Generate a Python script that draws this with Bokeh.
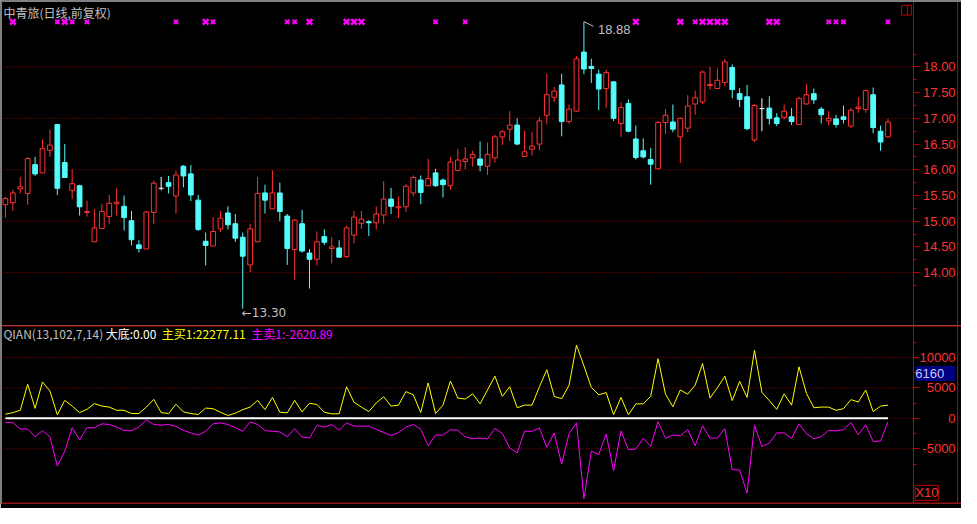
import numpy as np
from bokeh.plotting import figure
from bokeh.models import (Range1d, LinearAxis, FixedTicker, NumeralTickFormatter,
                          Label, Span, ColumnDataSource)
from bokeh.layouts import column
from bokeh.embed import file_html
from bokeh.resources import INLINE

# ---------------- data ----------------
opens = [15.32, 15.36, 15.63, 15.54, 16.10, 15.94, 16.38, 16.88, 16.14, 15.60,
         15.69, 15.17, 14.60, 14.86, 15.09, 15.34, 15.29, 15.01, 14.54, 14.46,
         15.17, 15.64, 15.75, 15.49, 16.07, 15.92, 15.41, 14.61, 14.52, 14.85,
         15.16, 14.95, 14.69, 14.15, 14.60, 15.55, 15.24, 15.55, 15.10, 14.45,
         14.95, 14.38, 14.26, 14.70, 14.47, 14.48, 14.31, 14.73, 14.96, 14.99,
         14.97, 15.12, 15.43, 15.26, 15.28, 15.55, 15.80, 15.69, 15.94, 15.80,
         15.69, 15.99, 16.16, 16.23, 16.21, 16.07, 16.23, 16.64, 16.79, 16.87,
         16.26, 16.40, 16.50, 17.06, 17.41, 17.65, 16.94, 17.14, 18.29, 18.01,
         17.86, 17.58, 17.71, 16.90, 17.29, 16.60, 16.37, 16.20, 16.02, 16.92,
         16.93, 16.64, 16.81, 17.28, 17.32, 17.64, 17.58, 17.70, 17.99, 17.48,
         17.42, 16.58, 17.19, 17.20, 17.01, 17.02, 17.03, 16.88, 17.28, 17.48,
         17.18, 16.95, 16.99, 17.03, 16.85, 17.19, 17.17, 17.46, 16.75, 16.64]
closes = [15.44, 15.55, 15.67, 16.22, 15.92, 16.41, 16.48, 15.64, 15.85, 15.73,
          15.28, 15.19, 14.87, 15.19, 15.35, 15.37, 15.07, 14.64, 14.47, 15.18,
          15.74, 15.64, 15.68, 15.90, 15.88, 15.51, 14.84, 14.53, 14.80, 15.06,
          14.93, 14.67, 14.32, 14.85, 15.54, 15.41, 15.55, 15.19, 14.47, 15.02,
          14.42, 14.26, 14.60, 14.59, 14.50, 14.30, 14.87, 15.08, 15.04, 14.97,
          15.14, 15.43, 15.29, 15.28, 15.68, 15.85, 15.56, 15.83, 15.69, 15.71,
          16.15, 16.19, 16.21, 16.30, 16.09, 16.30, 16.64, 16.74, 16.87, 16.50,
          16.35, 16.46, 16.95, 17.46, 17.53, 16.94, 17.18, 18.16, 17.96, 17.97,
          17.57, 17.89, 17.00, 17.21, 16.75, 16.24, 16.25, 16.11, 16.92, 17.06,
          16.79, 17.00, 17.24, 17.40, 17.90, 17.66, 17.74, 18.10, 17.56, 17.37,
          16.80, 17.25, 17.19, 17.00, 16.90, 17.14, 16.94, 17.39, 17.46, 17.36,
          17.07, 17.00, 16.88, 16.98, 17.16, 17.22, 17.54, 16.82, 16.54, 16.93]
highs = [15.47, 15.61, 15.86, 16.24, 16.25, 16.59, 16.78, 16.89, 16.50, 16.01,
         15.71, 15.40, 15.23, 15.34, 15.51, 15.65, 15.50, 15.20, 14.63, 15.20,
         15.79, 15.86, 15.88, 15.98, 16.09, 16.09, 15.51, 14.78, 15.08, 15.20,
         15.29, 15.14, 14.78, 14.95, 15.86, 15.71, 15.99, 15.75, 15.14, 15.04,
         15.22, 14.46, 14.80, 14.84, 14.69, 14.63, 14.91, 15.20, 15.20, 15.02,
         15.29, 15.78, 15.65, 15.48, 15.72, 15.89, 15.89, 16.21, 16.02, 15.83,
         16.25, 16.40, 16.44, 16.37, 16.55, 16.53, 16.68, 16.77, 17.14, 17.00,
         16.76, 16.74, 17.02, 17.87, 17.61, 17.87, 17.27, 18.21, 18.88, 18.16,
         17.95, 17.95, 17.72, 17.31, 17.37, 16.86, 16.61, 16.42, 16.95, 17.18,
         17.27, 17.02, 17.45, 17.54, 17.93, 18.00, 17.97, 18.16, 18.05, 17.59,
         17.65, 17.28, 17.39, 17.43, 17.10, 17.27, 17.20, 17.42, 17.67, 17.58,
         17.22, 17.14, 17.07, 17.25, 17.20, 17.41, 17.56, 17.60, 16.86, 16.99]
lows = [15.07, 15.20, 15.54, 15.32, 15.88, 15.93, 16.25, 15.51, 15.84, 15.43,
        15.11, 15.09, 14.59, 14.85, 14.95, 15.11, 14.82, 14.53, 14.39, 14.45,
        14.94, 15.60, 15.54, 15.15, 15.66, 15.39, 14.81, 14.14, 14.51, 14.79,
        14.84, 14.60, 13.30, 14.01, 14.59, 15.15, 15.24, 15.00, 14.15, 13.86,
        14.39, 13.69, 14.14, 14.54, 14.18, 14.29, 14.28, 14.57, 14.85, 14.71,
        14.84, 14.95, 15.14, 15.06, 15.18, 15.48, 15.33, 15.68, 15.67, 15.46,
        15.61, 15.97, 16.01, 16.06, 15.97, 15.90, 16.14, 16.48, 16.56, 16.48,
        16.25, 16.28, 16.38, 16.88, 17.32, 16.65, 16.89, 17.13, 17.86, 17.69,
        17.16, 17.20, 16.95, 16.64, 16.73, 16.20, 16.22, 15.71, 16.01, 16.70,
        16.73, 16.13, 16.73, 17.07, 17.28, 17.56, 17.57, 17.63, 17.39, 17.22,
        16.77, 16.54, 16.75, 16.88, 16.85, 16.98, 16.87, 16.87, 17.27, 17.28,
        16.90, 16.86, 16.82, 16.90, 16.81, 17.11, 17.11, 16.71, 16.37, 16.63]

buy = [688, 952, 1323, 5607, 1640, 5978, 4497, 582, 2962, 2010,
       952, 1481, 2433, 2010, 1852, 1323, 1323, 794, 794, 1852,
       3121, 952, 794, 2328, 1058, 794, 635, 1693, 1587, 1005,
       476, 846, 1428, 1852, 2962, 1428, 3439, 1005, 899, 2962,
       1058, 2486, 2275, 1005, 741, 741, 5184, 2645, 1852, 1111,
       2539, 3544, 2010, 2169, 4391, 3862, 952, 5819, 794, 2169,
       6136, 3333, 3174, 4020, 2381, 4655, 6930, 3597, 5184, 1746,
       2169, 2169, 5184, 7988, 3597, 3227, 5449, 12008, 8623, 5078,
       3862, 4232, 582, 3439, 582, 2381, 2381, 3597, 9787, 3968,
       1904, 4655, 3968, 5449, 8993, 3333, 5026, 6930, 2910, 6084,
       3439, 11162, 4285, 2910, 1481, 4020, 2169, 8464, 4126, 1746,
       1852, 1852, 1323, 1587, 3068, 2698, 4655, 1111, 2010, 2169]
sell = [-688, -688, -1746, -1746, -3015, -2010, -3015, -7829, -5396, -1534,
        -3544, -1534, -1534, -899, -1005, -1428, -2010, -2010, -1428, -265,
        -1005, -1111, -1005, -1323, -1957, -2381, -2751, -2116, -899, -741,
        -1005, -1534, -2116, -582, -1005, -2010, -2116, -2222, -3015, -1693,
        -3068, -3227, -1164, -1428, -1005, -1957, -741, -1270, -1270, -1270,
        -1799, -2328, -2804, -2328, -1428, -1005, -1799, -4497, -2751, -2751,
        -1852, -1957, -3015, -3333, -3227, -3386, -1640, -2486, -4867, -5660,
        -2116, -2116, -1587, -4761, -2381, -7512, -2486, -741, -13172, -5396,
        -5925, -2592, -8570, -2063, -5131, -5026, -3280, -4602, -529, -3280,
        -2751, -2857, -1852, -4497, -1217, -3227, -3227, -1693, -8411, -8464,
        -12273, -1164, -4602, -4073, -2381, -2381, -3280, -899, -2486, -3333,
        -3015, -1957, -2063, -1852, -688, -2698, -1058, -3809, -3703, -582]

signal_big = [1, 8, 27, 41, 46, 47, 48, 85, 91, 94, 95, 96, 97, 103, 104]
signal_small = [7, 9, 11, 23, 28, 38, 39, 58, 62, 93, 111, 112, 113, 119]

price_ticks = [14.0, 14.5, 15.0, 15.5, 16.0, 16.5, 17.0, 17.5, 18.0]
price_minor = [13.75, 14.25, 14.75, 15.25, 15.75, 16.25, 16.75, 17.25, 17.75, 18.25]
price_grid = [14.0, 15.0, 16.0, 17.0, 18.0]
ind_ticks = [-5000, 0, 5000, 10000]
ind_minor = [-7500, -2500, 2500, 7500, 12500]

title_text = "中青旅(日线,前复权)"
ind_name = "QIAN(13,102,7,14)"
ind_texts = ["大底:0.00", "主买1:22277.11", "主卖1:-2620.89"]
cursor_text = "6160"
scale_text = "X10"

# ---------------- styling / layout ----------------
W, H1, H2 = 961, 325, 183
RED = "#ff3232"
DRED = "#c00000"
GRIDC = "#a00000"
CYAN = "#54fcfc"
MAG = "#ff00ff"
YEL = "#ffff00"
GREY = "#c0c0c0"

# reference pixel -> data helpers (annotation placement only)
def rx(px):
    return (px - 5) / 7.54

def rp(py):
    return 18 - (py - 68.5) / 53.0

def rv(py):
    return (431 - py) * 158.73

xr = Range1d(rx(0), rx(977))
AX_X = rx(928)      # axis line
LBL_X = rx(971)     # right edge of tick labels
EDGE_X = rx(973)    # outer frame line


def add_axes(p, ticks, minor, fmt):
    tick_ax = LinearAxis(fixed_location=AX_X,
                         ticker=FixedTicker(ticks=ticks, minor_ticks=minor),
                         axis_line_color=DRED, major_tick_line_color=DRED,
                         minor_tick_line_color=DRED, major_tick_out=6,
                         major_tick_in=0, minor_tick_out=3, minor_tick_in=0,
                         major_label_text_alpha=0,
                         major_label_text_font_size="1px")
    p.add_layout(tick_ax, "right")
    lab_ax = LinearAxis(fixed_location=LBL_X,
                        ticker=FixedTicker(ticks=ticks, minor_ticks=[]),
                        axis_line_color=None, major_tick_line_color=None,
                        minor_tick_line_color=None, major_tick_out=0,
                        major_tick_in=0, major_label_standoff=0,
                        major_label_text_color=RED,
                        major_label_text_font="Liberation Sans",
                        major_label_text_font_size="13px",
                        formatter=NumeralTickFormatter(format=fmt))
    p.add_layout(lab_ax, "left")
    p.add_layout(Span(location=EDGE_X, dimension="height", line_color=DRED,
                      line_width=1))
    p.add_layout(Span(location=xr.start, dimension="height", line_color="#808080",
                      line_width=3, level="overlay"))


def make_fig(h, yr, bottom):
    p = figure(width=W, height=h, x_range=xr, y_range=yr,
               output_backend="svg", toolbar_location=None,
               x_axis_location=None, y_axis_location=None,
               min_border_left=0, min_border_right=0, min_border_top=0,
               min_border_bottom=bottom, background_fill_color="black",
               border_fill_color="black", outline_line_color=None)
    p.xgrid.visible = False
    p.ygrid.visible = False
    return p

# ---------------- main candle panel ----------------
p1 = make_fig(H1, Range1d(rp(335), rp(0)), 0)
p1.segment(x0=[xr.start] * len(price_grid), y0=price_grid,
           x1=[AX_X] * len(price_grid), y1=price_grid,
           color=GRIDC, line_dash="1 2", line_width=1)
add_axes(p1, price_ticks, price_minor, "0.00")

o = np.array(opens)
c = np.array(closes)
idx = np.arange(len(o))
up = c > o
down = c < o
flat = c == o
col = np.where(up, RED, np.where(down, CYAN, "#ffffff"))
fill = np.where(down, CYAN, "#000000")
src = ColumnDataSource(dict(x=idx, h=highs, l=lows, col=col))
p1.segment("x", "l", "x", "h", color="col", line_width=1, source=src)
nf = ~flat
src_b = ColumnDataSource(dict(x=idx[nf], top=np.maximum(o, c)[nf],
                              bot=np.minimum(o, c)[nf], col=col[nf], fill=fill[nf]))
p1.vbar(x="x", top="top", bottom="bot", width=0.64, fill_color="fill",
        line_color="col", line_width=1, source=src_b)
fx = idx[flat]
p1.segment(fx - 0.33, o[flat], fx + 0.33, o[flat], color="#ffffff", line_width=1)

# signal markers
my = rp(22)
p1.scatter(signal_big, [my] * len(signal_big), marker="x", size=8,
           line_width=2.5, color=MAG)
p1.scatter(signal_small, [my] * len(signal_small), marker="x", size=6,
           line_width=2, color=MAG)

# extreme annotations
imin = int(np.argmin(lows))
imax = int(np.argmax(highs))
p1.add_layout(Label(x=imin, y=lows[imin], text="\u2190%.2f" % lows[imin],
                    x_offset=-1, y_offset=-4, text_baseline="middle",
                    text_color=GREY, text_font="DejaVu Sans",
                    text_font_size="12px"))
p1.segment([imax], [highs[imax]], [imax + 1.3], [highs[imax] - 0.09],
           color=GREY, line_width=1)
p1.add_layout(Label(x=imax, y=highs[imax], text="%.2f" % highs[imax],
                    x_offset=14, y_offset=-8, text_baseline="middle",
                    text_color=GREY, text_font="Liberation Sans",
                    text_font_size="13px"))

# title
p1.add_layout(Label(x=rx(3), y=rp(12), text=title_text, text_baseline="middle",
                    text_color=GREY, text_font="Noto Sans CJK SC",
                    text_font_size="12px"))
# small window icon
p1.quad(left=[rx(916)], right=[rx(926)], top=[rp(5)], bottom=[rp(15)],
        fill_color=None, line_color=DRED, line_width=1)
p1.segment([rx(922)], [rp(5)], [rx(922)], [rp(15)], color=DRED, line_width=1)
p1.add_layout(Span(location=rp(0), dimension="width", line_color="#808080",
                   line_width=3, level="overlay"))

# ---------------- indicator panel ----------------
p2 = make_fig(H2, Range1d(rv(519), rv(335)), 5)
p2.segment(x0=[xr.start] * len(ind_ticks), y0=ind_ticks,
           x1=[AX_X] * len(ind_ticks), y1=ind_ticks,
           color=GRIDC, line_dash="1 2", line_width=1)
add_axes(p2, ind_ticks, ind_minor, "0")
p2.add_layout(Span(location=rv(335), dimension="width", line_color=DRED, line_width=2))
p2.add_layout(Span(location=rv(519), dimension="width", line_color=DRED, line_width=2))

p2.segment([0], [0], [len(buy) - 1], [0], color="#ffffff", line_width=2)
p2.line(idx, buy, color=YEL, line_width=1)
p2.line(idx, sell, color=MAG, line_width=1)

hy = rv(343)
for txt, px, colr in [(ind_name, 3, GREY), (ind_texts[0], 107, "#ffffff"),
                      (ind_texts[1], 164, YEL), (ind_texts[2], 255, MAG)]:
    p2.add_layout(Label(x=rx(px), y=hy, text=txt, text_baseline="middle",
                        text_color=colr, text_font="Noto Sans CJK SC",
                        text_font_size="12px"))

p2.add_layout(Label(x=rx(930), y=rv(384.5), text=cursor_text + "   ",
                    text_baseline="middle", text_color="#c8c8ff",
                    text_font="Liberation Sans", text_font_size="13px",
                    background_fill_color="#000080"))
p2.add_layout(Label(x=rx(930), y=rv(508), text=scale_text, text_baseline="middle",
                    text_color=RED, text_font="Liberation Sans",
                    text_font_size="13px", border_line_color=DRED))

layout = column(p1, p2, spacing=0)
open("out.html", "w").write(file_html(layout, INLINE))
